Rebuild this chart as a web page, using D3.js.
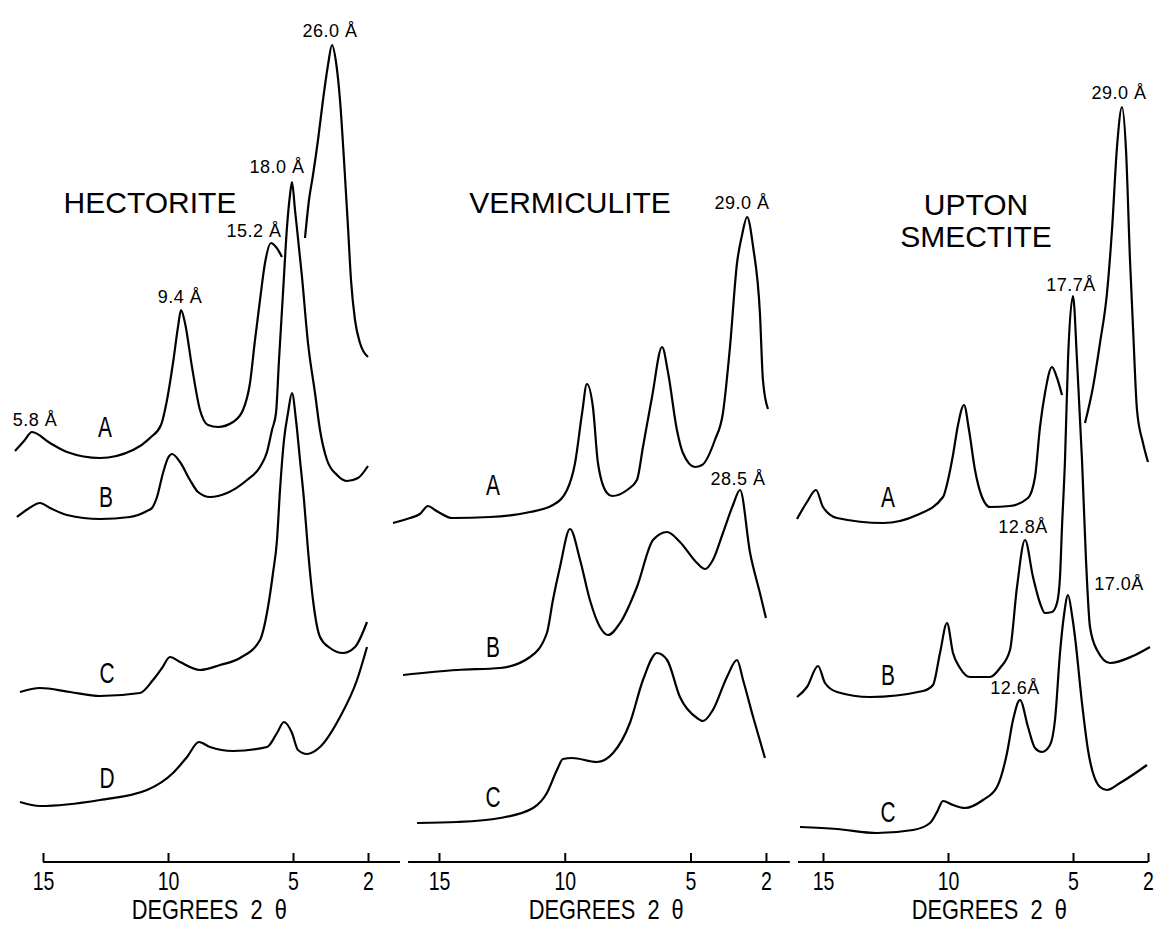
<!DOCTYPE html>
<html>
<head>
<meta charset="utf-8">
<script src="https://cdn.jsdelivr.net/npm/d3@7"></script>
<style>
  body { margin: 0; background: #fff; }
  svg text { font-family: "Liberation Sans", Arial, sans-serif; fill: #000; }
</style>
</head>
<body>
<script>
/* X-ray traces, values.
   Each point is [degrees 2 theta, relative intensity incl. the trace's offset].
   null marks a break in the pen line. */
var tickValues = [15, 10, 5, 2];
var traceNames = ["A", "B", "C", "D"];

var hectoriteA = [[16.12,41.1],[15.76,42.1],[15.44,43.0],[14.72,41.9],[14.04,41.0],[12.72,40.4],[11.40,41.2],
  [10.72,42.4],[10.28,43.7],[10.04,46.2],[9.80,49.9],[9.60,53.5],[9.48,55.2],[9.32,53.9],[9.04,49.5],[8.72,45.2],
  [8.40,43.7],[8.00,43.5],[7.40,44.0],[7.00,45.2],[6.72,47.9],[6.52,52.2],[6.32,56.2],[6.12,59.9],[5.88,61.9],
  [5.68,61.5],[5.44,60.5], null,
  [4.52,62.4],[4.36,66.2],[4.20,68.7],[4.00,72.2],[3.80,76.2],[3.60,79.7],[3.44,81.7],[3.28,80.0],[3.12,76.2],
  [2.96,70.2],[2.80,63.5],[2.68,58.2],[2.52,54.2],[2.32,51.9],[2.00,50.5]];
var hectoriteB = [[16.04,34.5],[15.60,35.3],[15.12,35.9],[14.72,35.4],[14.04,34.7],[12.72,34.3],[11.52,34.5],
  [10.84,35.1],[10.64,35.4],[10.44,36.5],[10.20,38.9],[10.00,40.4],[9.84,40.8],[9.52,40.0],[9.12,38.2],[8.80,37.0],
  [8.32,36.5],[7.64,36.9],[6.84,38.2],[6.32,39.5],[6.04,41.0],[5.84,43.2],[5.68,44.9],[5.56,50.2],[5.40,56.9],
  [5.24,63.5],[5.12,66.7],[5.04,68.0],[4.92,65.2],[4.64,58.5],[4.40,51.9],[4.12,46.9],[3.92,43.2],[3.64,40.2],
  [3.24,38.7],[2.84,38.1],[2.40,38.4],[2.00,39.6]];
var hectoriteC = [[15.92,17.0],[15.12,17.4],[13.92,17.0],[12.72,16.6],[11.12,16.9],[10.60,18.2],[10.24,19.4],
  [9.92,20.5],[9.52,20.0],[8.72,19.2],[7.92,19.7],[7.12,20.4],[6.32,22.2],[6.00,25.5],[5.80,28.9],[5.64,32.2],
  [5.52,37.2],[5.36,42.2],[5.20,44.9],[5.04,46.9],[4.88,44.2],[4.72,40.2],[4.56,36.2],[4.40,31.2],[4.20,26.2],
  [3.92,22.5],[3.52,21.4],[3.00,20.9],[2.52,21.5],[2.04,24.0]];
var hectoriteD = [[15.92,6.0],[15.12,5.6],[12.72,6.2],[10.84,7.2],[9.80,8.9],[9.24,10.5],[8.76,12.0],[8.32,11.5],
  [7.40,11.1],[6.04,11.5],[5.64,12.9],[5.36,14.0],[5.04,12.9],[4.80,11.2],[4.44,10.8],[3.92,11.5],[3.12,14.5],
  [2.44,18.2],[2.04,21.5]];

var vermiculiteA = [[16.83,33.9],[16.15,34.4],[15.76,34.8],[15.44,35.6],[15.16,35.2],[14.96,34.9],[14.48,34.4],
  [12.97,34.5],[11.38,35.0],[10.47,35.7],[9.91,37.2],[9.59,39.9],[9.31,44.9],[9.12,47.8],[8.88,45.5],[8.68,39.9],
  [8.32,36.9],[8.12,36.6],[7.52,37.2],[7.13,38.2],[6.89,41.5],[6.53,46.5],[6.13,51.5],[5.89,48.9],[5.54,43.2],
  [5.30,40.9],[4.82,39.5],[4.54,39.7],[4.03,42.2],[3.71,44.9],[3.43,51.5],[3.15,59.9],[2.95,62.7],[2.75,64.5],
  [2.51,61.5],[2.24,54.9],[2.12,48.2],[1.92,45.3]];
var vermiculiteB = [[16.43,18.7],[14.28,19.2],[12.57,19.4],[11.38,20.5],[10.71,22.9],[10.47,26.2],[10.19,29.5],
  [9.79,33.3],[9.39,30.2],[9.00,26.2],[8.60,23.5],[8.28,22.7],[7.80,23.9],[7.13,27.5],[6.49,32.2],[5.93,33.0],
  [5.42,32.0],[4.74,29.9],[4.42,29.3],[4.11,30.2],[3.71,32.9],[3.31,35.7],[3.03,37.2],[2.63,30.9],[2.24,26.9],
  [2.00,24.4]];
var vermiculiteC = [[15.87,3.9],[14.28,4.0],[12.57,4.4],[11.26,5.4],[10.71,6.9],[10.31,9.2],[10.07,10.3],
  [9.71,10.4],[8.72,10.0],[8.08,10.9],[7.41,13.9],[6.89,18.2],[6.33,20.9],[5.93,20.2],[5.42,16.5],[4.74,14.4],
  [4.50,14.1],[4.11,15.2],[3.55,18.5],[3.15,20.2],[2.91,18.2],[2.51,14.5],[2.04,10.4]];

var uptonA = [[16.04,34.3],[15.64,36.0],[15.28,37.2],[15.00,35.5],[14.44,34.4],[12.60,33.9],[11.24,34.7],
  [10.20,36.5],[10.00,38.2],[9.80,40.7],[9.60,43.7],[9.36,45.7],[9.16,43.2],[8.92,39.2],[8.64,36.5],[8.32,35.5],
  [7.52,35.6],[6.80,36.4],[6.52,38.5],[6.32,43.5],[6.12,46.9],[5.84,49.5],[5.68,48.7],[5.44,46.7], null,
  [4.52,43.9],[4.20,47.5],[3.92,51.9],[3.64,56.9],[3.44,63.2],[3.24,71.5],[3.04,75.5],[2.88,71.2],[2.72,60.2],
  [2.60,53.5],[2.44,45.2],[2.20,41.9],[2.00,40.0]];
var uptonB = [[16.04,16.5],[15.64,17.5],[15.20,19.6],[14.92,17.9],[14.44,17.0],[13.12,16.5],[11.00,17.1],
  [10.60,17.7],[10.32,20.9],[10.04,23.9],[9.80,20.9],[9.52,19.4],[9.12,18.5],[8.32,18.5],[7.92,19.4],[7.52,21.2],
  [7.24,27.5],[6.92,32.2],[6.60,28.5],[6.32,25.9],[6.12,24.9],[5.84,25.0],[5.64,25.9],[5.52,28.5],[5.44,33.5],
  [5.32,40.2],[5.20,50.2],[5.00,56.6],[4.84,50.2],[4.64,40.2],[4.48,30.2],[4.32,23.5],[4.04,21.2],[3.52,19.9],
  [2.60,20.6],[1.92,21.5]];
var uptonC = [[15.92,3.5],[14.44,3.3],[12.84,2.9],[11.40,3.2],[10.72,3.9],[10.44,5.0],[10.20,6.1],[9.80,5.7],
  [9.32,5.4],[8.60,6.2],[8.04,7.5],[7.64,10.9],[7.40,14.2],[7.12,16.2],[6.80,13.5],[6.52,11.4],[6.24,11.0],
  [5.92,11.7],[5.72,14.2],[5.52,20.9],[5.36,24.7],[5.20,26.7],[5.04,24.7],[4.92,22.5],[4.64,15.9],[4.40,11.2],
  [3.92,7.5],[3.64,7.2],[3.12,7.9],[2.04,9.7]];

// Peak spacings: [text, 2 theta, intensity]
var hectoritePeaks = [["26.0 Å",3.52,82.5],["18.0 Å",5.64,68.9],["15.2 Å",6.56,62.5],["9.4 Å",9.52,55.9],["5.8 Å",15.32,43.6]];
var vermiculitePeaks = [["29.0 Å",2.95,65.3],["28.5 Å",3.11,37.7]];
var uptonPeaks = [["29.0 Å",3.16,76.3],["17.7Å",5.08,57.1],["12.8Å",7.0,32.9],["17.0Å",3.16,27.2],["12.6Å",7.32,16.8]];

// Where the trace letters sit: [2 theta, intensity]
var hectoriteLetters = [[12.52,42.5],[12.48,35.5],[12.44,17.9],[12.44,7.4]];
var vermiculiteLetters = [[12.85,36.7],[12.85,20.5],[12.85,5.5]];
var uptonLetters = [[12.4,35.5],[12.4,17.7],[12.4,4.0]];

/* Layout */
var width = 1157, height = 925, axisY = 862;
var panels = [
  { title: ["HECTORITE"], titleX: 150, titleY: 213, left: 43, ppd: 25, axisFrom: 15, axisTo: 0.72,
    traces: [hectoriteA, hectoriteB, hectoriteC, hectoriteD], peaks: hectoritePeaks, letters: hectoriteLetters },
  { title: ["VERMICULITE"], titleX: 570, titleY: 213, left: 439, ppd: 25.15, axisFrom: 16.23, axisTo: 1.05,
    traces: [vermiculiteA, vermiculiteB, vermiculiteC], peaks: vermiculitePeaks, letters: vermiculiteLetters },
  { title: ["UPTON", "SMECTITE"], titleX: 976, titleY: 215, left: 823, ppd: 25, axisFrom: 16.0, axisTo: 2.0,
    traces: [uptonA, uptonB, uptonC], peaks: uptonPeaks, letters: uptonLetters }
];

var svg = d3.select("body").append("svg")
  .attr("width", width)
  .attr("height", height);

// one shared intensity scale, axis line is zero
var y = d3.scaleLinear().domain([0, 86.2]).range([axisY, 0]);

panels.forEach(function(p){
  var x = d3.scaleLinear().domain([15, 2]).range([p.left, p.left + 13 * p.ppd]);
  var g = svg.append("g");

  var line = d3.line()
    .defined(function(d){ return d !== null; })
    .x(function(d){ return x(d[0]); })
    .y(function(d){ return y(d[1]); })
    .curve(d3.curveMonotoneX);

  g.selectAll("path.trace")
    .data(p.traces)
    .enter().append("path")
    .attr("class", "trace")
    .attr("d", line)
    .attr("fill", "none")
    .attr("stroke", "#000")
    .attr("stroke-width", 2.2)
    .attr("stroke-linejoin", "round");

  // bottom axis, ticks pointing up
  var ax = g.append("g")
    .attr("transform", "translate(0," + axisY + ")")
    .call(d3.axisBottom(x).tickValues(tickValues).tickSize(-9).tickSizeOuter(0).tickPadding(10).tickFormat(d3.format("d")));
  ax.attr("font-family", null).attr("font-size", null);
  ax.select(".domain").remove();
  ax.selectAll(".tick line").attr("stroke-width", 2);
  ax.selectAll(".tick text")
    .style("font-size", "26px")
    .attr("transform", "scale(0.75,1)");
  ax.append("line")
    .attr("x1", x(p.axisFrom)).attr("x2", x(p.axisTo))
    .attr("stroke", "#000").attr("stroke-width", 2);

  g.append("text")
    .attr("x", x(8.35)).attr("y", 919)
    .attr("text-anchor", "middle")
    .attr("textLength", 155)
    .attr("lengthAdjust", "spacingAndGlyphs")
    .style("white-space", "pre")
    .style("font-size", "28px")
    .text("DEGREES  2  θ");

  // mineral name
  p.title.forEach(function(t, i){
    g.append("text")
      .attr("x", p.titleX).attr("y", p.titleY + i * 32)
      .attr("text-anchor", "middle")
      .style("font-size", "30px")
      .text(t);
  });

  // d-spacing labels
  g.selectAll("text.peak")
    .data(p.peaks)
    .enter().append("text")
    .attr("class", "peak")
    .attr("x", function(d){ return x(d[1]); })
    .attr("y", function(d){ return y(d[2]); })
    .attr("text-anchor", "middle")
    .style("font-size", "18px")
    .style("letter-spacing", "0.5px")
    .text(function(d){ return d[0]; });

  // A, B, C, D
  g.selectAll("text.letter")
    .data(p.letters)
    .enter().append("text")
    .attr("class", "letter")
    .attr("transform", function(d){ return "translate(" + x(d[0]) + "," + y(d[1]) + ") scale(0.72,1)"; })
    .attr("text-anchor", "middle")
    .style("font-size", "29px")
    .text(function(d, i){ return traceNames[i]; });
});
</script>
</body>
</html>
